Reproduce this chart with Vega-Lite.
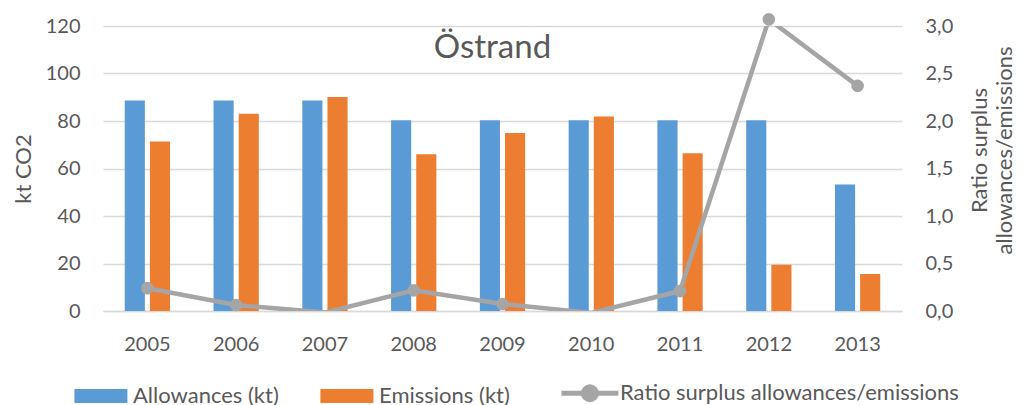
{
  "$schema": "https://vega.github.io/schema/vega-lite/v6.json",
  "width": 799,
  "height": 285,
  "autosize": {"type": "none"},
  "padding": {"left": 103, "top": 26, "right": 122, "bottom": 94},
  "background": "white",
  "config": {
    "font": "Lato",
    "view": {"stroke": null},
    "axis": {
      "labelColor": "#595959",
      "titleColor": "#595959",
      "labelFontSize": 20,
      "titleFontSize": 22,
      "titleFontWeight": "normal",
      "ticks": false,
      "domain": false
    }
  },
  "title": {
    "text": "Östrand",
    "fontSize": 33,
    "fontWeight": "normal",
    "color": "#595959",
    "frame": "group",
    "anchor": "middle",
    "baseline": "alphabetic",
    "offset": -31,
    "dy": 47,
    "dx": -10
  },
  "datasets": {
    "bars": [
      {"year": "2005", "series": "Allowances (kt)", "value": 88.6},
      {"year": "2005", "series": "Emissions (kt)", "value": 71.4},
      {"year": "2006", "series": "Allowances (kt)", "value": 88.6},
      {"year": "2006", "series": "Emissions (kt)", "value": 83.1},
      {"year": "2007", "series": "Allowances (kt)", "value": 88.6},
      {"year": "2007", "series": "Emissions (kt)", "value": 90.1},
      {"year": "2008", "series": "Allowances (kt)", "value": 80.3},
      {"year": "2008", "series": "Emissions (kt)", "value": 66.0},
      {"year": "2009", "series": "Allowances (kt)", "value": 80.3},
      {"year": "2009", "series": "Emissions (kt)", "value": 74.9},
      {"year": "2010", "series": "Allowances (kt)", "value": 80.3},
      {"year": "2010", "series": "Emissions (kt)", "value": 81.9},
      {"year": "2011", "series": "Allowances (kt)", "value": 80.3},
      {"year": "2011", "series": "Emissions (kt)", "value": 66.4},
      {"year": "2012", "series": "Allowances (kt)", "value": 80.3},
      {"year": "2012", "series": "Emissions (kt)", "value": 19.5},
      {"year": "2013", "series": "Allowances (kt)", "value": 53.3},
      {"year": "2013", "series": "Emissions (kt)", "value": 15.6}
    ],
    "ratio": [
      {"year": "2005", "ratio": 0.24},
      {"year": "2006", "ratio": 0.063},
      {"year": "2007", "ratio": -0.017},
      {"year": "2008", "ratio": 0.217},
      {"year": "2009", "ratio": 0.074},
      {"year": "2010", "ratio": -0.02},
      {"year": "2011", "ratio": 0.21},
      {"year": "2012", "ratio": 3.07},
      {"year": "2013", "ratio": 2.37}
    ]
  },
  "layer": [
    {
      "data": {"name": "bars"},
      "mark": {"type": "bar"},
      "encoding": {
        "x": {
          "field": "year",
          "type": "nominal",
          "scale": {"paddingInner": 0.49, "paddingOuter": 0.245},
          "axis": {
            "title": null,
            "labelAngle": 0,
            "labelPadding": 23,
            "domain": true,
            "domainColor": "#D9D9D9",
            "domainWidth": 1.5
          }
        },
        "xOffset": {"field": "series", "type": "nominal", "scale": {"paddingInner": 0.2}},
        "y": {
          "field": "value",
          "type": "quantitative",
          "scale": {"domain": [0, 120]},
          "axis": {
            "title": "kt CO2",
            "values": [0, 20, 40, 60, 80, 100, 120],
            "grid": true,
            "gridColor": "#D9D9D9",
            "gridWidth": 1.5,
            "labelPadding": 23,
            "titlePadding": 10
          }
        },
        "color": {
          "field": "series",
          "type": "nominal",
          "scale": {
            "domain": ["Allowances (kt)", "Emissions (kt)", "Ratio surplus allowances/emissions"],
            "range": ["#5B9BD5", "#ED7D31", "#A5A5A5"]
          },
          "legend": {
            "orient": "none",
            "legendX": -29,
            "legendY": 356,
            "direction": "horizontal",
            "title": null,
            "labelFontSize": 22,
            "labelColor": "#595959",
            "labelLimit": 500,
            "symbolSize": 2809,
            "symbolStrokeWidth": 0,
            "labelOffset": 37,
            "columnPadding": 41,
            "encode": {
              "symbols": {
                "update": {
                  "shape": {"signal": "datum.value === 'Ratio surplus allowances/emissions' ? 'M-0.4,0H1.75M0.92,0A0.245,0.245,0,1,1,0.43,0A0.245,0.245,0,1,1,0.92,0' : 'M-0.4,-0.26H1.6V0.26H-0.4Z'"},
                  "strokeWidth": {"signal": "datum.value === 'Ratio surplus allowances/emissions' ? 5 : 0"},
                  "fill": {"signal": "scale('color', datum.value)"},
                  "stroke": {"signal": "scale('color', datum.value)"},
                  "opacity": {"value": 1},
                  "fillOpacity": {"value": 1}
                }
              }
            }
          }
        }
      }
    },
    {
      "data": {"name": "ratio"},
      "mark": {"type": "line", "strokeWidth": 4.5, "clip": true},
      "encoding": {
        "x": {"field": "year", "type": "nominal"},
        "y": {
          "field": "ratio",
          "type": "quantitative",
          "scale": {"domain": [0, 3]},
          "axis": {
            "orient": "right",
            "title": ["Ratio surplus", "allowances/emissions"],
            "titleAngle": -90,
            "titleY": 124,
            "titleLineHeight": 25,
            "values": [0, 0.5, 1, 1.5, 2, 2.5, 3],
            "labelExpr": "replace(format(datum.value, '.1f'), '.', ',')",
            "grid": false,
            "labelPadding": 23,
            "titlePadding": 14
          }
        },
        "color": {"datum": "Ratio surplus allowances/emissions"}
      }
    },
    {
      "data": {"name": "ratio"},
      "transform": [{"filter": "datum.ratio >= 0"}],
      "mark": {"type": "point", "size": 160, "filled": true, "opacity": 1},
      "encoding": {
        "x": {"field": "year", "type": "nominal"},
        "y": {"field": "ratio", "type": "quantitative", "scale": {"domain": [0, 3]}, "axis": null},
        "color": {"datum": "Ratio surplus allowances/emissions"}
      }
    }
  ],
  "resolve": {"scale": {"y": "independent"}}
}
